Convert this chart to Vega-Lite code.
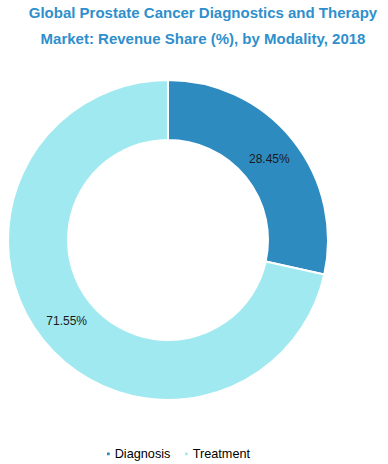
{
  "$schema": "https://vega.github.io/schema/vega-lite/v6.json",
  "autosize": {"type": "none"},
  "width": 320,
  "height": 320,
  "padding": {"left": 8, "top": 80, "right": 60, "bottom": 64},
  "background": "white",
  "title": {
    "text": ["Global Prostate Cancer Diagnostics and Therapy", "Market: Revenue Share (%), by Modality, 2018"],
    "font": "Liberation Sans",
    "fontSize": 15,
    "fontWeight": "bold",
    "color": "#2F8FCC",
    "lineHeight": 26,
    "anchor": "middle",
    "frame": "group",
    "dx": 35,
    "offset": 29
  },
  "data": {
    "values": [
      {"Modality": "Diagnosis", "Share": 28.45, "Label": "28.45%"},
      {"Modality": "Treatment", "Share": 71.55, "Label": "71.55%"}
    ]
  },
  "encoding": {
    "theta": {"field": "Share", "type": "quantitative", "stack": true},
    "color": {
      "field": "Modality",
      "type": "nominal",
      "scale": {"domain": ["Diagnosis", "Treatment"], "range": ["#2E8BC0", "#A0E9F0"]},
      "legend": {
        "title": null,
        "orient": "none",
        "direction": "horizontal",
        "legendX": 94,
        "legendY": 367,
        "symbolType": "square",
        "symbolSize": 18,
        "labelOffset": 0,
        "labelFont": "Liberation Sans",
        "labelFontSize": 12.7,
        "labelColor": "#000000",
        "columnPadding": 9
      }
    }
  },
  "layer": [
    {
      "mark": {"type": "arc", "innerRadius": 100, "outerRadius": 160, "stroke": "white", "strokeWidth": 2}
    },
    {
      "mark": {"type": "text", "radius": 130, "font": "Liberation Sans", "fontSize": 12, "color": "#1a1a1a"},
      "encoding": {
        "text": {"field": "Label", "type": "nominal"},
        "color": {"value": "#1a1a1a"}
      }
    }
  ]
}
